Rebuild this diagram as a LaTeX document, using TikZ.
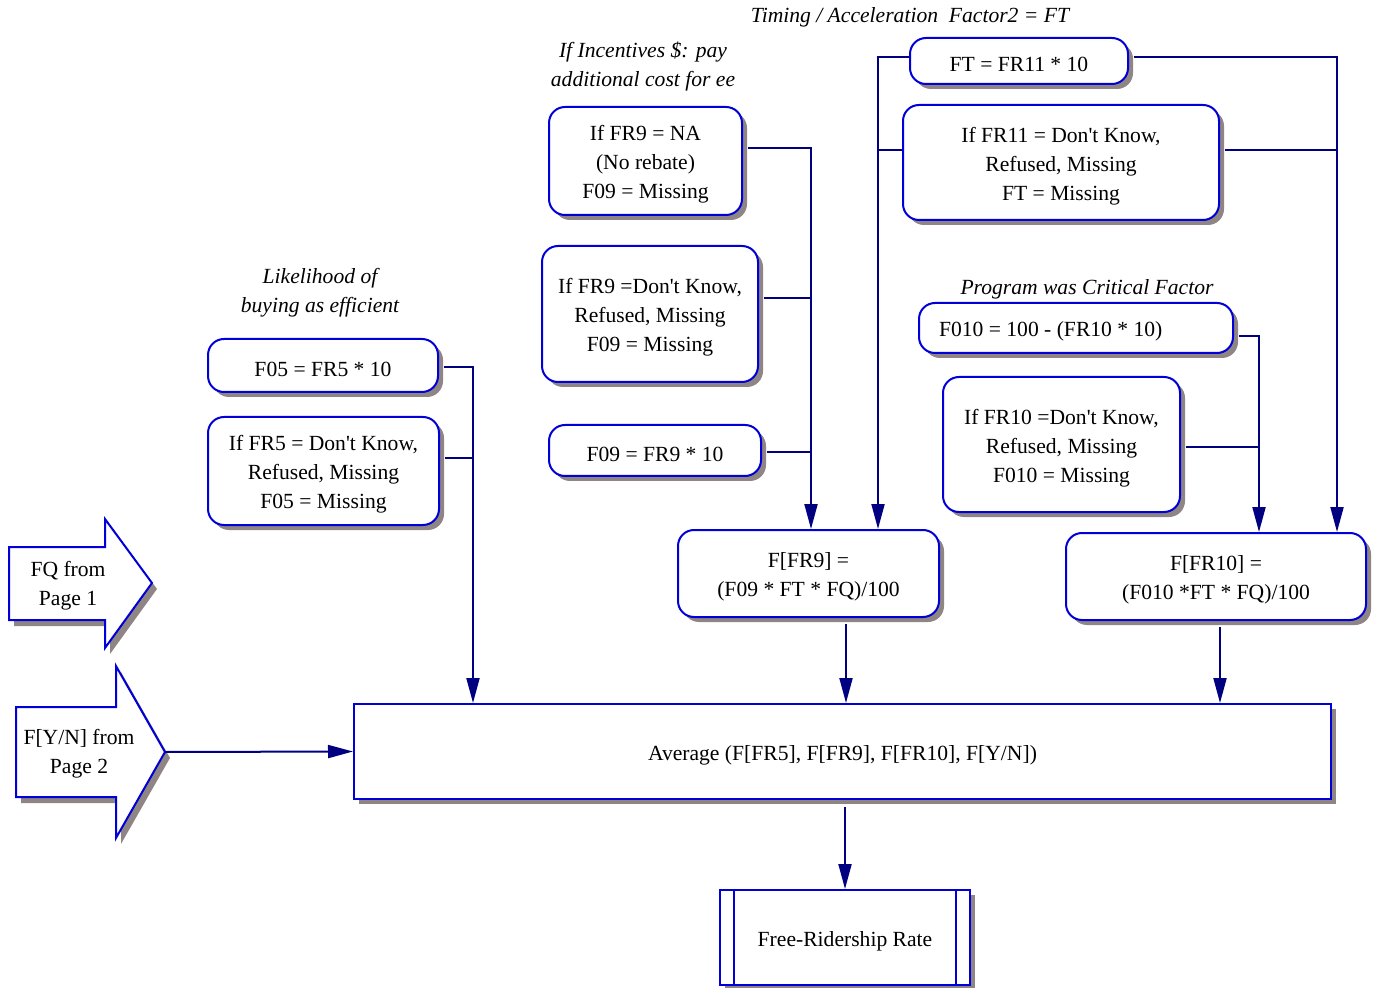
\documentclass[tikz,border=0pt]{standalone}
\usepackage{fontspec}
\setmainfont{Liberation Serif}
\usetikzlibrary{arrows.meta,shadows}

\definecolor{boxblue}{RGB}{0,0,215}
\definecolor{linenavy}{RGB}{0,0,128}
\definecolor{shadowgray}{RGB}{143,133,133}
\newcommand{\diagfont}{\fontsize{10.8}{14.5}\selectfont}
\newcommand{\ap}{\textquotesingle}

\begin{document}
\begin{tikzpicture}[x=.5pt, y=-.5pt, font=\diagfont,
  box/.style={draw=boxblue, line width=1pt, fill=white, rounded corners=8pt,
    inner sep=0pt, align=center, text height=11pt,
    drop shadow={shadow xshift=2.5pt, shadow yshift=-2.5pt, fill=shadowgray, opacity=1}},
  twoline/.style={text height=25.5pt},
  threeline/.style={text height=40pt},
  bigarrow/.style={draw=boxblue, line width=1pt, fill=white,
    drop shadow={shadow xshift=2.5pt, shadow yshift=-3pt, fill=shadowgray, opacity=1}},
  note/.style={font=\diagfont\itshape, align=center, inner sep=0pt},
  link/.style={draw=linenavy, line width=1pt},
  arr/.style={-{Triangle[length=12.5pt,width=6.5pt]}}]

\useasboundingbox (0,0) rectangle (1380,988);

% headings
\node[note] (timing) at (910,17.5) {Timing / Acceleration\ \ Factor2 = FT};
\node[note] (incent) at (643,66) {If Incentives \$: pay\\additional cost for ee};
\node[note] (likely) at (320,293) {Likelihood of\\buying as efficient};
\node[note] (critical) at (1087,289.5) {Program was Critical Factor};

% input boxes
\node[box, minimum width=109pt, minimum height=23pt] (ft) at (1019,61) {FT = FR11 * 10};
\node[box, threeline, minimum width=158pt, minimum height=57.5pt] (fr11) at (1061,162.5) {If FR11 = Don\ap t Know,\\Refused, Missing\\FT = Missing};
\node[box, threeline, minimum width=96.5pt, minimum height=54pt] (fr9na) at (645.5,161) {If FR9 = NA\\(No rebate)\\F09 = Missing};
\node[box, threeline, minimum width=108pt, minimum height=68pt] (fr9dk) at (650,314) {If FR9 =Don\ap t Know,\\Refused, Missing\\F09 = Missing};
\node[box, minimum width=106pt, minimum height=25.5pt] (f09) at (655,450.5) {F09 = FR9 * 10};
\node[box, minimum width=115pt, minimum height=26.5pt] (f05) at (323,365.5) {F05 = FR5 * 10};
\node[box, threeline, minimum width=115.5pt, minimum height=54pt] (fr5dk) at (323.5,471) {If FR5 = Don\ap t Know,\\Refused, Missing\\F05 = Missing};
\node[box, text width=137pt, inner xsep=10pt, align=flush left, minimum height=25pt] (f010) at (1076,328) {F010 = 100 - (FR10 * 10)};
\node[box, threeline, minimum width=118.5pt, minimum height=67.5pt] (fr10dk) at (1061.5,444.5) {If FR10 =Don\ap t Know,\\Refused, Missing\\F010 = Missing};

% results
\node[box, twoline, minimum width=130.5pt, minimum height=43.5pt] (ffr9) at (808.5,573.5) {F[FR9] =\\(F09 * FT * FQ)/100};
\node[box, twoline, minimum width=150pt, minimum height=43.5pt] (ffr10) at (1216,576.5) {F[FR10] =\\(F010 *FT * FQ)/100};
\node[box, sharp corners, minimum width=488.5pt, minimum height=47.5pt] (avg) at (842.5,751.5) {Average (F[FR5], F[FR9], F[FR10], F[Y/N])};
\node[box, sharp corners, minimum width=125pt, minimum height=47.5pt] (fr) at (845,937.5) {Free-Ridership Rate};
\draw[boxblue, line width=1pt] ([xshift=7.5pt]fr.north west) -- ([xshift=7.5pt]fr.south west);
\draw[boxblue, line width=1pt] ([xshift=-7.5pt]fr.north east) -- ([xshift=-7.5pt]fr.south east);

% page arrows
\filldraw[bigarrow] (9,547) -- (105,547) -- (105,519) -- (152,583) -- (105,648) -- (105,620) -- (9,620) -- cycle;
\node[align=center] (fq) at (68,586) {FQ from\\Page 1};
\filldraw[bigarrow] (16,707) -- (116,707) -- (116,666) -- (165,752) -- (116,838) -- (116,797) -- (16,797) -- cycle;
\node[align=center] (yn) at (79,754) {F[Y/N] from\\Page 2};
\coordinate (yntip) at (165,752);

% bus points
\coordinate (j5a) at (473,367);
\coordinate (j5b) at (473,458);
\coordinate (j9a) at (811,148);
\coordinate (j9b) at (811,298);
\coordinate (j9c) at (811,452);
\coordinate (jta) at (878,57);
\coordinate (jtb) at (878,150);
\coordinate (jtc) at (1337,57);
\coordinate (jtd) at (1337,150);
\coordinate (j10a) at (1259,336);
\coordinate (j10b) at (1259,447);
\coordinate (out9) at (846,660);
\coordinate (out10) at (1220,660);

% connectors
\draw[link,arr] ([xshift=2.5pt]f05.east |- j5a) -| (j5a |- avg.north);
\draw[link] ([xshift=2.5pt]fr5dk.east |- j5b) -- (j5b);
\draw[link,arr] ([xshift=2.5pt]fr9na.east |- j9a) -| (j9a |- ffr9.north);
\draw[link] ([xshift=2.5pt]fr9dk.east |- j9b) -- (j9b);
\draw[link] ([xshift=2.5pt]f09.east |- j9c) -- (j9c);
\draw[link,arr] (ft.west |- jta) -| (jta |- ffr9.north);
\draw[link] (fr11.west |- jtb) -- (jtb);
\draw[link,arr] ([xshift=2.5pt]ft.east |- jtc) -| (jtc |- ffr10.north);
\draw[link] ([xshift=2.5pt]fr11.east |- jtd) -- (jtd);
\draw[link,arr] ([xshift=2.5pt]f010.east |- j10a) -| (j10a |- ffr10.north);
\draw[link] ([xshift=2.5pt]fr10dk.east |- j10b) -- (j10b);
\draw[link,arr] ([yshift=-3pt]ffr9.south -| out9) -- (out9 |- avg.north);
\draw[link,arr] ([yshift=-3pt]ffr10.south -| out10) -- (out10 |- avg.north);
\draw[link,arr] (yntip) -- (avg.west);
\draw[link,arr] ([yshift=-3.5pt]fr.north |- avg.south) -- (fr.north);

\end{tikzpicture}
\end{document}
